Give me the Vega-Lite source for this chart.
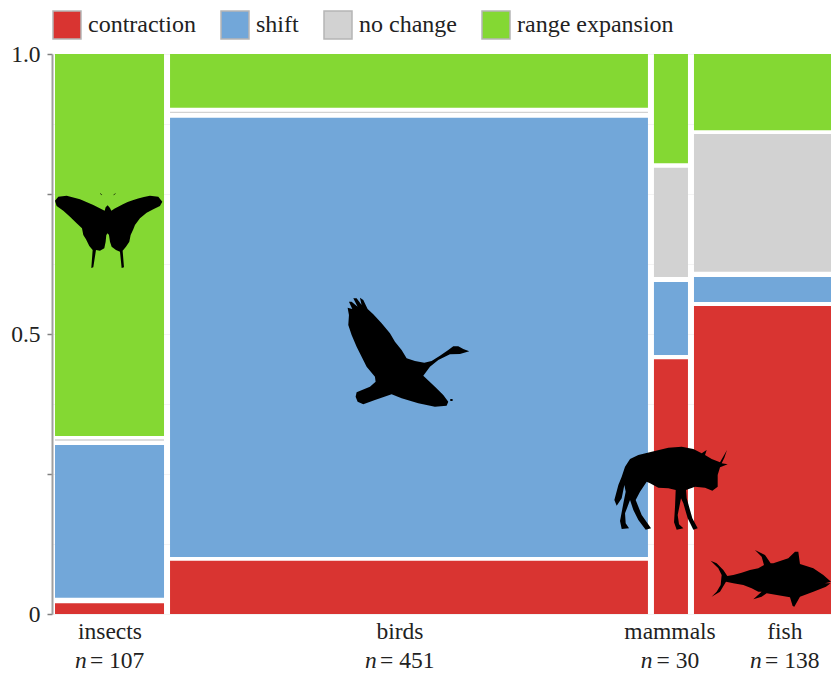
{
"$schema":"https://vega.github.io/schema/vega-lite/v6.json",
"width":779,"height":560,
"autosize":{"type":"none"},
"padding":{"left":52,"top":54,"right":0,"bottom":59},
"background":"white",
"config":{"view":{"stroke":null}},
"datasets":{
"tiles":[
{"taxon":"insects","change":"contraction","x0":2.8,"x1":104.4,"y0":0,"y1":0.019},
{"taxon":"insects","change":"shift","x0":2.8,"x1":104.4,"y0":0.029,"y1":0.302},
{"taxon":"insects","change":"no change","x0":2.8,"x1":104.4,"y0":0.3095,"y1":0.312},
{"taxon":"insects","change":"range expansion","x0":2.8,"x1":104.4,"y0":0.318,"y1":1},
{"taxon":"birds","change":"contraction","x0":110,"x1":555.4,"y0":0,"y1":0.095},
{"taxon":"birds","change":"shift","x0":110,"x1":555.4,"y0":0.102,"y1":0.886},
{"taxon":"birds","change":"no change","x0":110,"x1":555.4,"y0":0.8945,"y1":0.897},
{"taxon":"birds","change":"range expansion","x0":110,"x1":555.4,"y0":0.904,"y1":1},
{"taxon":"mammals","change":"contraction","x0":561,"x1":592.7,"y0":0,"y1":0.455},
{"taxon":"mammals","change":"shift","x0":561,"x1":592.7,"y0":0.4625,"y1":0.593},
{"taxon":"mammals","change":"no change","x0":561,"x1":592.7,"y0":0.602,"y1":0.797},
{"taxon":"mammals","change":"range expansion","x0":561,"x1":592.7,"y0":0.805,"y1":1},
{"taxon":"fish","change":"contraction","x0":598.3,"x1":726,"y0":0,"y1":0.55},
{"taxon":"fish","change":"shift","x0":598.3,"x1":726,"y0":0.557,"y1":0.602},
{"taxon":"fish","change":"no change","x0":598.3,"x1":726,"y0":0.611,"y1":0.857},
{"taxon":"fish","change":"range expansion","x0":598.3,"x1":726,"y0":0.864,"y1":1}
],
"labels":[
{"taxon":"insects","count":"= 107","xc":54,"xn":21.4,"xe":35.4,"yName":-0.044,"yN":-0.0964},
{"taxon":"birds","count":"= 451","xc":324.3,"xn":291.7,"xe":305.7,"yName":-0.044,"yN":-0.0964},
{"taxon":"mammals","count":"= 30","xc":576,"xn":548.6,"xe":563.4,"yName":-0.044,"yN":-0.0964},
{"taxon":"fish","count":"= 138","xc":683,"xn":650.5,"xe":664.6,"yName":-0.044,"yN":-0.0964}
],
"icons":[
{"animal":"butterfly","x":-11.2,"y":0.775},
{"animal":"goose","x":263.7,"y":0.5875},
{"animal":"wildebeest","x":515.4,"y":0.3196},
{"animal":"tuna","x":603.9,"y":0.1321}
]
},
"layer":[
{"data":{"name":"tiles"},
 "mark":{"type":"rect","stroke":null},
 "encoding":{
  "x":{"field":"x0","type":"quantitative","scale":{"domain":[0,726],"nice":false,"zero":false},"axis":null},
  "x2":{"field":"x1"},
  "y":{"field":"y0","type":"quantitative","scale":{"domain":[0,1],"nice":false},
   "axis":{"title":null,"values":[0,0.125,0.25,0.375,0.5,0.625,0.75,0.875,1],
    "labelExpr":"datum.value==0?'0':datum.value==1?'1.0':datum.value==0.5?'0.5':''",
    "labelFont":"Liberation Serif","labelFontSize":23.5,"labelColor":"#222222","labelPadding":7,"labelOverlap":false,"labelFlush":false,
    "grid":true,"gridColor":"#f3f3f3","gridWidth":1,
    "domainColor":"#a0a0a0","domainWidth":2,"tickColor":"#808080","tickWidth":1.5,"tickSize":5,
    "tickOpacity":{"condition":{"test":"datum.value*4==floor(datum.value*4)","value":1},"value":0}}},
  "y2":{"field":"y1"},
  "color":{"field":"change","type":"nominal",
   "scale":{"domain":["contraction","shift","no change","range expansion"],"range":["#d93431","#72a7d9","#d2d2d2","#84d833"]},
   "legend":{"title":null,"orient":"none","legendX":0,"legendY":-44,"direction":"horizontal","columns":4,"padding":0,
    "symbolType":"square","symbolSize":784,"symbolOpacity":1,
    "labelFont":"Liberation Serif","labelFontSize":24,"labelColor":"#222222","labelOffset":6,"columnPadding":22,"labelLimit":300,
    "encoding":{"symbols":{"fill":[{"test":"datum.value==='contraction'","value":"#e3322b"},{"test":"datum.value==='shift'","value":"#5b9bd5"},{"test":"datum.value==='no change'","value":"#d9d9d9"},{"value":"#8ad83e"}],"stroke":{"value":"#b5b5b5"},"strokeWidth":{"value":1.5}}}}}
 }},
{"data":{"name":"labels"},
 "mark":{"type":"text","font":"Liberation Serif","fontSize":23.5,"color":"#222222","align":"center","baseline":"alphabetic"},
 "encoding":{"x":{"field":"xc","type":"quantitative"},"y":{"field":"yName","type":"quantitative"},"text":{"field":"taxon"}}},
{"data":{"name":"labels"},
 "mark":{"type":"text","font":"Liberation Serif","fontSize":23.5,"fontStyle":"italic","color":"#222222","align":"left","baseline":"alphabetic"},
 "encoding":{"x":{"field":"xn","type":"quantitative"},"y":{"field":"yN","type":"quantitative"},"text":{"value":"n"}}},
{"data":{"name":"labels"},
 "mark":{"type":"text","font":"Liberation Serif","fontSize":23.5,"color":"#222222","align":"left","baseline":"alphabetic"},
 "encoding":{"x":{"field":"xe","type":"quantitative"},"y":{"field":"yN","type":"quantitative"},"text":{"field":"count"}}},
{"data":{"name":"icons"},
 "mark":{"type":"point","filled":true,"color":"black","opacity":1,"size":0.4444,"strokeWidth":0,"clip":false},
 "encoding":{"x":{"field":"x","type":"quantitative"},"y":{"field":"y","type":"quantitative"},
  "shape":{"field":"animal","type":"nominal","legend":null,"scale":{"domain":["butterfly","goose","wildebeest","tuna"],
   "range":[
   "M203,76 L210,84 L214,92 C240,75 280,55 330,47 L355,50 L367,65 L360,78 L340,88 L320,98 L300,115 L285,135 L280,148 L272,165 L268,185 L258,200 L248,212 L252,262 L245,264 L240,215 L228,210 L215,200 L210,185 L207,165 L203,160 L199,165 L197,185 L193,205 L180,212 L168,210 L160,262 L154,264 L158,210 L148,198 L138,178 L130,165 L126,145 L110,130 L90,110 L70,92 L50,78 L45,62 L55,50 L80,47 L120,58 L160,75 L194,92 L197,82 Z M181,40 L187,45 L186,46 L180,41 Z M220,45 L226,40 L227,41 L221,46 Z",
   "M403,199 L385,192 L370,184 L355,184 L340,195 L315,212 L290,228 L268,233 L240,228 L215,220 L200,195 L180,170 L165,145 L140,115 L115,88 L98,72 L85,45 L75,38 L80,60 L65,40 L55,40 L68,65 L50,50 L42,50 L52,72 L38,68 L42,90 L40,120 L50,150 L65,185 L80,215 L95,245 L120,275 L122,290 L105,305 L65,322 L62,335 L68,350 L85,358 L120,345 L170,328 L200,340 L250,355 L300,365 L335,362 L340,350 L325,330 L300,305 L265,272 L285,245 L310,225 L345,208 L375,207 Z M346,342 L353,342 L353,348 L346,348 Z",
   "M366,45 L358,68 L350,85 L368,88 L345,97 L338,120 L338,155 L322,167 L300,158 L270,155 L243,165 L245,190 L262,250 L278,280 L265,284 L248,250 L235,205 L228,190 L218,240 L222,268 L235,280 L215,284 L207,262 L210,215 L212,165 L190,160 L160,158 L135,145 L125,140 L105,170 L92,195 L110,240 L138,280 L122,284 L100,255 L85,225 L75,195 L60,235 L62,265 L72,280 L50,282 L45,258 L55,205 L62,170 L58,150 L50,190 L35,212 L28,195 L40,150 L50,125 L60,95 L75,72 L100,60 L140,50 L190,38 L230,35 L265,42 L290,55 L305,45 L300,60 L320,72 L345,82 Z",
   "M393,125 L370,105 L340,85 L300,72 L295,35 L285,35 L265,55 L220,70 L212,70 L195,45 L165,30 L185,50 L192,75 L175,85 L150,90 L125,98 L100,105 L82,108 L70,90 L50,70 L32,62 L55,85 L65,105 L62,135 L50,155 L35,170 L60,155 L78,125 L100,130 L130,135 L155,145 L175,155 L185,155 L160,178 L185,170 L200,160 L270,172 L278,198 L283,200 L300,170 L340,155 L378,140 L392,130 L375,130 Z"
   ]}}}}
]
}
